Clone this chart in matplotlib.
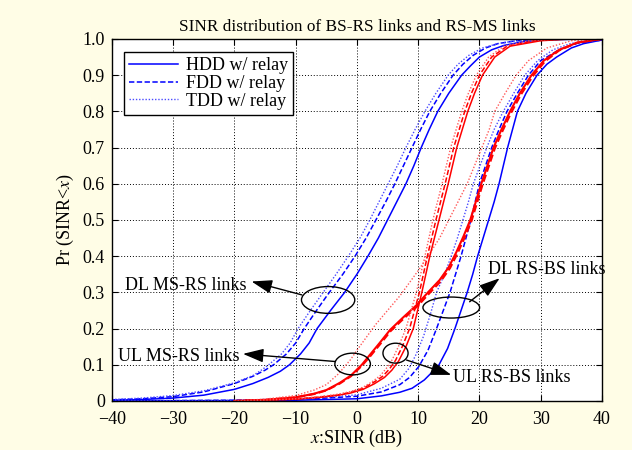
import matplotlib
matplotlib.use("Agg")
import matplotlib.pyplot as plt
from matplotlib.patches import Ellipse

plt.rcParams['font.family'] = ['Liberation Serif', 'DejaVu Serif']
plt.rcParams['mathtext.fontset'] = 'stix'

# ---------------- data ----------------
# DL MS-RS links (blue, left group)
dl_msrs_hdd_x = [-40, -35, -30, -25, -20, -17, -14.5, -12.5, -11, -9.2, -7.8, -6.5, -4.3, -2, 0, 1.8, 3.5, 5, 6.5, 8, 9.3, 10.5, 11.8, 13.2, 15, 17.1, 18.5, 20, 22, 24, 27, 30, 35, 40]
dl_msrs_hdd_y = [0.002, 0.004, 0.008, 0.016, 0.032, 0.048, 0.065, 0.082, 0.1, 0.13, 0.16, 0.2, 0.25, 0.3, 0.35, 0.4, 0.45, 0.5, 0.55, 0.6, 0.65, 0.7, 0.75, 0.8, 0.85, 0.9, 0.925, 0.95, 0.97, 0.982, 0.992, 0.997, 0.999, 1.0]

dl_msrs_fdd_x = [-40, -35, -30, -25, -20, -17, -15, -13.6, -11.5, -10, -8.6, -6.6, -4.5, -2.3, -0.3, 1.5, 3.1, 4.7, 6.2, 7.6, 9, 10.4, 11.9, 13.7, 15.7, 17.3, 19, 21, 23, 26, 30, 35, 40]
dl_msrs_fdd_y = [0.003, 0.006, 0.012, 0.025, 0.048, 0.068, 0.085, 0.1, 0.13, 0.16, 0.2, 0.25, 0.3, 0.35, 0.4, 0.45, 0.5, 0.55, 0.6, 0.65, 0.7, 0.75, 0.8, 0.85, 0.9, 0.93, 0.955, 0.975, 0.987, 0.995, 0.998, 1.0, 1.0]

dl_msrs_tdd_x = [-40, -35, -30, -25, -20, -17, -15.6, -14.4, -12.3, -10.9, -9.6, -7.6, -5.5, -3.4, -1.4, 0.5, 2.1, 3.6, 5.1, 6.6, 8, 9.5, 11.1, 12.9, 14.9, 16.5, 18.3, 20.5, 23, 26, 30, 35, 40]
dl_msrs_tdd_y = [0.004, 0.008, 0.015, 0.028, 0.05, 0.07, 0.085, 0.1, 0.13, 0.16, 0.2, 0.25, 0.3, 0.35, 0.4, 0.45, 0.5, 0.55, 0.6, 0.65, 0.7, 0.75, 0.8, 0.85, 0.9, 0.93, 0.955, 0.975, 0.987, 0.995, 0.998, 1.0, 1.0]

# DL RS-BS links (blue, right group)
dl_rsbs_hdd_x = [-40, -20, -10, 0, 4, 7, 9, 11, 12.3, 13.4, 14.8, 16, 17, 18, 18.9, 19.7, 20.6, 21.5, 22.4, 23.2, 23.9, 24.6, 25.4, 26.2, 27.6, 29.4, 31, 32.6, 35, 37, 40]
dl_rsbs_hdd_y = [0, 0.001, 0.002, 0.006, 0.014, 0.024, 0.035, 0.058, 0.08, 0.1, 0.145, 0.2, 0.25, 0.3, 0.35, 0.4, 0.45, 0.5, 0.55, 0.6, 0.65, 0.7, 0.75, 0.8, 0.85, 0.9, 0.93, 0.95, 0.975, 0.987, 0.997]

dl_rsbs_fdd_x = [-40, -20, -10, -5, 0, 4, 7, 8.6, 10.1, 11.6, 13, 14.1, 15.2, 16.1, 17, 17.8, 18.6, 19.3, 20, 21, 22, 23.2, 24.5, 26.2, 28, 30, 33, 36, 40]
dl_rsbs_fdd_y = [0, 0.002, 0.005, 0.008, 0.013, 0.025, 0.045, 0.065, 0.095, 0.14, 0.2, 0.25, 0.3, 0.35, 0.4, 0.45, 0.5, 0.55, 0.6, 0.65, 0.7, 0.75, 0.8, 0.85, 0.9, 0.94, 0.97, 0.988, 0.997]

dl_rsbs_tdd_x = [-40, -20, -10, -5, 0, 4, 7, 8.5, 9.7, 10.9, 12, 13, 14.3, 15.4, 16.4, 17.3, 18.2, 19, 20.1, 21.2, 22.4, 23.9, 25.6, 27.4, 29.5, 32, 35, 40]
dl_rsbs_tdd_y = [0, 0.002, 0.006, 0.01, 0.017, 0.035, 0.06, 0.09, 0.13, 0.18, 0.24, 0.3, 0.35, 0.4, 0.45, 0.5, 0.55, 0.6, 0.65, 0.7, 0.75, 0.8, 0.85, 0.9, 0.94, 0.97, 0.988, 0.998]

# UL MS-RS links (red, gradual group)
ul_msrs_hdd_x = [-20, -15, -10, -7, -5, -2.8, -1, 0.8, 2.1, 3.7, 5.4, 7.5, 9.75, 11.6, 13.5, 15, 16.2, 17.4, 18.5, 19.4, 20.3, 21.3, 22.3, 23.6, 25, 26.6, 28.5, 30.5, 33, 36, 40]
ul_msrs_hdd_y = [0, 0.003, 0.01, 0.02, 0.03, 0.05, 0.07, 0.1, 0.127, 0.16, 0.196, 0.23, 0.265, 0.3, 0.334, 0.37, 0.41, 0.455, 0.5, 0.55, 0.6, 0.65, 0.7, 0.75, 0.8, 0.85, 0.9, 0.94, 0.97, 0.99, 1.0]

ul_msrs_fdd_x = [-20, -15, -10, -7, -5, -2.8, -1, 0.8, 2.2, 3.8, 5.5, 7.6, 9.9, 11.8, 13.7, 15.2, 16.4, 17.6, 18.7, 19.6, 20.5, 21.5, 22.5, 23.8, 25.2, 26.8, 28.7, 30.7, 33, 36, 40]
ul_msrs_fdd_y = [0, 0.003, 0.01, 0.019, 0.029, 0.048, 0.068, 0.097, 0.124, 0.157, 0.193, 0.227, 0.262, 0.297, 0.331, 0.367, 0.407, 0.452, 0.497, 0.547, 0.597, 0.647, 0.697, 0.747, 0.797, 0.847, 0.897, 0.938, 0.968, 0.99, 1.0]

ul_msrs_tdd_x = [-20, -15, -10, -7, -5, -3, -1, 0, 1.5, 3, 5, 7, 8.5, 10, 11.8, 13.5, 15, 16.5, 18, 19.2, 20.4, 21.6, 22.5, 24.2, 26, 28, 31, 35, 40]
ul_msrs_tdd_y = [0, 0.005, 0.015, 0.03, 0.045, 0.075, 0.115, 0.14, 0.175, 0.21, 0.25, 0.29, 0.325, 0.36, 0.405, 0.45, 0.5, 0.55, 0.6, 0.65, 0.7, 0.75, 0.8, 0.85, 0.9, 0.94, 0.975, 0.995, 1.0]

# UL RS-BS links (red, steep group)
ul_rsbs_hdd_x = [-20, -15, -10, -6, -3, -1, 1, 2.8, 4.5, 5.7, 6.8, 8.0, 9.2, 10.6, 11.9, 13.4, 14.9, 16.3, 18.1, 19.2, 20.5, 22.5, 25, 30, 35, 40]
ul_rsbs_hdd_y = [0, 0.002, 0.005, 0.01, 0.016, 0.022, 0.032, 0.047, 0.065, 0.085, 0.11, 0.15, 0.2, 0.3, 0.4, 0.5, 0.6, 0.7, 0.8, 0.85, 0.9, 0.95, 0.98, 0.995, 1.0, 1.0]

ul_rsbs_fdd_x = [-20, -15, -10, -6, -3, -1, 1, 2.6, 4.2, 5.3, 6.3, 7.4, 8.6, 10.2, 11.5, 12.9, 14.4, 15.8, 17.6, 18.7, 20.0, 22.0, 24.5, 29, 34, 40]
ul_rsbs_fdd_y = [0, 0.002, 0.005, 0.011, 0.017, 0.024, 0.035, 0.05, 0.068, 0.088, 0.112, 0.15, 0.2, 0.3, 0.4, 0.5, 0.6, 0.7, 0.8, 0.85, 0.9, 0.95, 0.98, 0.995, 1.0, 1.0]

ul_rsbs_tdd_x = [-20, -15, -10, -6, -3, -1, 1, 2.4, 3.8, 4.8, 5.8, 6.9, 8.0, 9.7, 11.1, 12.4, 13.9, 15.3, 17.1, 18.2, 19.5, 21.5, 24.0, 28, 33, 40]
ul_rsbs_tdd_y = [0, 0.002, 0.006, 0.012, 0.019, 0.026, 0.038, 0.052, 0.07, 0.09, 0.115, 0.155, 0.2, 0.3, 0.4, 0.5, 0.6, 0.7, 0.8, 0.85, 0.9, 0.95, 0.98, 0.995, 1.0, 1.0]

legend_labels = ['HDD w/ relay', 'FDD w/ relay', 'TDD w/ relay']
x_ticks = [-40, -30, -20, -10, 0, 10, 20, 30, 40]
y_ticks = [0, 0.1, 0.2, 0.3, 0.4, 0.5, 0.6, 0.7, 0.8, 0.9, 1.0]
y_tick_labels = ['0', '0.1', '0.2', '0.3', '0.4', '0.5', '0.6', '0.7', '0.8', '0.9', '1.0']

# ---------------- figure ----------------
fig = plt.figure(figsize=(6.32, 4.5), dpi=100, facecolor='#fffde6')
ax = fig.add_axes([0.177, 0.109, 0.7755, 0.8045])
ax.set_facecolor('white')

BLUE = '#0000ff'
BLUE_L = '#4a4aff'
RED = '#ff0000'
RED_L = '#ff5a5a'
dash = (0, (3.5, 1.6))
dot = (0, (1, 1.3))

h1, = ax.plot(dl_msrs_hdd_x, dl_msrs_hdd_y, color=BLUE, lw=1.1, ls='-')
h2, = ax.plot(dl_msrs_fdd_x, dl_msrs_fdd_y, color=BLUE, lw=1.1, ls=dash)
h3, = ax.plot(dl_msrs_tdd_x, dl_msrs_tdd_y, color=BLUE_L, lw=1.0, ls=dot)

ax.plot(dl_rsbs_hdd_x, dl_rsbs_hdd_y, color=BLUE, lw=1.1, ls='-')
ax.plot(dl_rsbs_fdd_x, dl_rsbs_fdd_y, color=BLUE, lw=1.1, ls=dash)
ax.plot(dl_rsbs_tdd_x, dl_rsbs_tdd_y, color=BLUE_L, lw=1.0, ls=dot)

ax.plot(ul_msrs_hdd_x, ul_msrs_hdd_y, color=RED, lw=1.5, ls='-')
ax.plot(ul_msrs_fdd_x, ul_msrs_fdd_y, color=RED, lw=1.5, ls=dash)
ax.plot(ul_msrs_tdd_x, ul_msrs_tdd_y, color=RED_L, lw=1.0, ls=dot)

ax.plot(ul_rsbs_hdd_x, ul_rsbs_hdd_y, color=RED, lw=1.1, ls='-')
ax.plot(ul_rsbs_fdd_x, ul_rsbs_fdd_y, color=RED, lw=1.1, ls=dash)
ax.plot(ul_rsbs_tdd_x, ul_rsbs_tdd_y, color=RED_L, lw=1.0, ls=dot)

ax.set_xlim(-40, 40)
ax.set_ylim(0, 1.0)
ax.set_xticks(x_ticks)
ax.set_yticks(y_ticks)
ax.set_yticklabels(y_tick_labels)
ax.tick_params(direction='in', top=True, right=True, labelsize=13, length=4, width=0.8)
ax.tick_params(axis='x', pad=7)
ax.tick_params(axis='y', pad=5)
ax.grid(True, color='black', ls=(0, (1, 2)), lw=0.7)
for s in ax.spines.values():
    s.set_linewidth(1.0)
    s.set_color('black')

ax.set_title('SINR distribution of BS-RS links and RS-MS links', fontsize=12.4, pad=6)
ax.set_xlabel('$x$:SINR (dB)', fontsize=13, labelpad=0.5)
ax.set_ylabel('Pr (SINR<$x$)', fontsize=13, labelpad=5)

leg = ax.legend([h1, h2, h3], legend_labels, loc='upper left', bbox_to_anchor=(0.024, 0.965),
                fontsize=13, frameon=True, fancybox=False, framealpha=1, edgecolor='black',
                handlelength=2.7, labelspacing=0.05, borderpad=0.3, handletextpad=0.45, borderaxespad=0)
leg.get_frame().set_linewidth(1.0)

# ellipses
ell_specs = [((-4.7, 0.279), 8.7, 0.074),
             ((-0.7, 0.102), 5.8, 0.060),
             ((15.4, 0.258), 9.25, 0.058),
             ((6.3, 0.132), 4.1, 0.055)]
for c, w, h in ell_specs:
    ax.add_patch(Ellipse(c, w, h, fill=False, edgecolor='black', lw=1.0, zorder=5))

arrow_kw = dict(arrowstyle='-|>,head_length=0.9,head_width=0.3', color='black', lw=1.0,
                shrinkA=0, shrinkB=0, mutation_scale=14)
ax.annotate('', xy=(-17.2, 0.33), xytext=(-9.0, 0.293), arrowprops=arrow_kw, zorder=6)
ax.annotate('', xy=(-18.6, 0.13), xytext=(-3.6, 0.109), arrowprops=arrow_kw, zorder=6)
ax.annotate('', xy=(23.3, 0.339), xytext=(18.4, 0.274), arrowprops=arrow_kw, zorder=6)
ax.annotate('', xy=(15.4, 0.072), xytext=(8.1, 0.113), arrowprops=arrow_kw, zorder=6)

ax.text(-37.9, 0.318, 'DL MS-RS links', fontsize=13, va='center', ha='left', zorder=6)
ax.text(-39.0, 0.124, 'UL MS-RS links', fontsize=13, va='center', ha='left', zorder=6)
ax.text(21.4, 0.362, 'DL RS-BS links', fontsize=13, va='center', ha='left', zorder=6, clip_on=False)
ax.text(15.7, 0.064, 'UL RS-BS links', fontsize=13, va='center', ha='left', zorder=6)

fig.savefig('out.png', dpi=100, facecolor=fig.get_facecolor())
